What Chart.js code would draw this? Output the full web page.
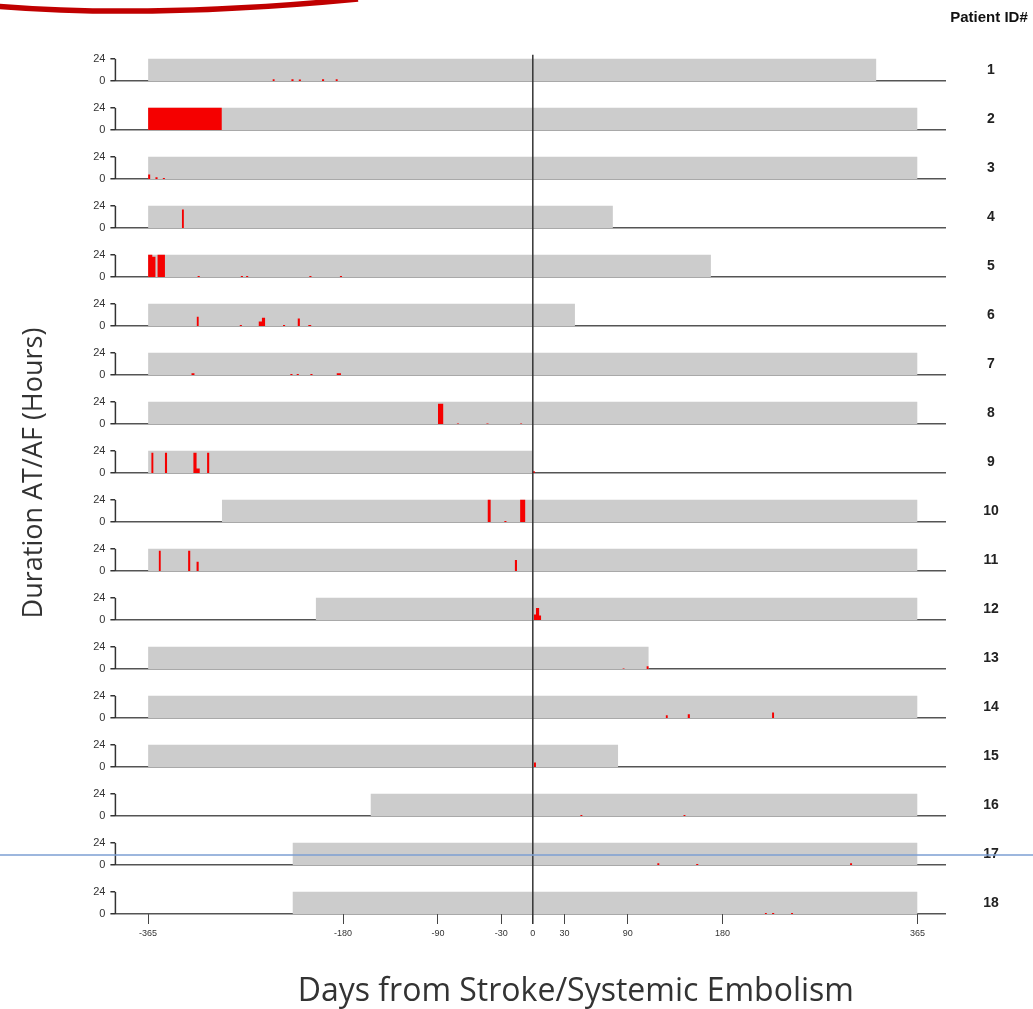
<!DOCTYPE html>
<html>
<head>
<meta charset="utf-8">
<script src="https://cdn.jsdelivr.net/npm/chart.js@4.4.1/dist/chart.umd.min.js"></script>
<style>
  body { margin: 0; background: #fff; }
  canvas { display: block; }
</style>
</head>
<body>
<canvas id="af_chart" width="1033" height="1009"></canvas>
<script>
// patients and their monitoring window (days from stroke)
const patientIds = [1, 2, 3, 4, 5, 6, 7, 8, 9, 10, 11, 12, 13, 14, 15, 16, 17, 18];
const monitorStart = [-365, -365, -365, -365, -365, -365, -365, -365, -365, -295, -365, -206, -365, -365, -365, -154, -228, -228];
const monitorEnd = [326, 365, 365, 76, 169, 40, 365, 365, 0, 365, 365, 365, 110, 365, 81, 365, 365, 365];

// AT/AF episodes per patient: first day, number of days, hours per day
const afDay = [
    [-247, -229, -222, -200, -187],
    [-365],
    [-365, -358, -351],
    [-333],
    [-365, -361, -356, -318, -277, -272, -212, -183],
    [-319, -278, -260, -257, -237, -223, -213],
    [-324, -230, -224, -211, -186],
    [-90, -72, -44, -12],
    [-362, -349, -322, -319, -309, 0],
    [-43, -27, -12],
    [-355, -327, -319, -17],
    [1, 3, 6],
    [85, 108],
    [126, 147, 227],
    [1],
    [45, 143],
    [118, 155, 301],
    [220, 227, 245]
];
const afLength = [
    [2, 2, 2, 2, 2],
    [70],
    [2, 2, 2],
    [2],
    [4, 3, 7, 2, 2, 2, 2, 2],
    [2, 2, 3, 3, 2, 2, 3],
    [3, 2, 2, 2, 4],
    [5, 2, 2, 2],
    [2, 2, 3, 3, 2, 2],
    [3, 2, 5],
    [2, 2, 2, 2],
    [2, 3, 2],
    [2, 2],
    [2, 2, 2],
    [2],
    [2, 2],
    [2, 2, 2],
    [2, 2, 2]
];
const afHours = [
    [2, 2, 1.5, 2, 2],
    [24],
    [5, 2, 1],
    [20],
    [24, 22, 24, 1, 1, 1, 1, 1],
    [10, 1, 5, 9, 1, 8, 1],
    [2, 1, 1, 1, 2],
    [22, 0.5, 0.5, 0.5],
    [22, 22, 22, 5, 22, 2],
    [24, 1, 24],
    [22, 22, 10, 12],
    [6, 13, 5],
    [0.5, 3],
    [3, 4, 6],
    [5],
    [1, 1],
    [2, 1, 2],
    [1, 1, 1]
];

const xTicks = [-365, -180, -90, -30, 0, 30, 90, 180, 365];
const yTicks = [0, 24];
const xTitle = 'Days from Stroke/Systemic Embolism';
const yTitle = 'Duration AT/AF (Hours)';

const narrow = "'Liberation Sans Narrow', 'Liberation Sans', sans-serif";

function episodePoints(i) {
    let pts = [];
    for (let k = 0; k < afDay[i].length; k++) {
        let s = afDay[i][k], e = s + afLength[i][k], h = afHours[i][k];
        pts.push({x: s, y: 0}, {x: s, y: h}, {x: e, y: h}, {x: e, y: 0});
    }
    return pts;
}

let datasets = [];
let scales = {
    x: {
        type: 'linear',
        min: -396,
        max: 392,
        afterBuildTicks: s => { s.ticks = xTicks.map(v => ({value: v})); },
        afterFit: s => { s.height = 95; },
        ticks: { font: { family: narrow, size: 9 }, color: '#333', padding: 4, autoSkip: false, maxRotation: 0 },
        grid: { drawOnChartArea: false, tickLength: 10, tickColor: '#444', lineWidth: 1 },
        border: { display: false }
    }
};

for (let i = 0; i < patientIds.length; i++) {
    let id = 'y' + i;
    datasets.push({
        label: 'AT/AF ' + patientIds[i],
        data: episodePoints(i),
        yAxisID: id,
        fill: 'origin',
        backgroundColor: '#f50000',
        borderColor: 'rgba(0,0,0,0)',
        borderWidth: 0,
        pointRadius: 0,
        order: 1
    });
    datasets.push({
        label: 'Monitored ' + patientIds[i],
        data: [{x: monitorStart[i], y: 24}, {x: monitorEnd[i], y: 24}],
        yAxisID: id,
        fill: 'origin',
        backgroundColor: '#cccccc',
        borderColor: 'rgba(0,0,0,0)',
        borderWidth: 0,
        pointRadius: 0,
        order: 2
    });
}

// stacked left axes: the last one defined ends up on top, so go backwards
for (let i = patientIds.length - 1; i >= 0; i--) {
    scales['y' + i] = {
        type: 'linear',
        position: 'left',
        stack: 'rows',
        stackWeight: 1,
        min: 0,
        max: 53,
        z: 1,
        afterBuildTicks: s => { s.ticks = yTicks.map(v => ({value: v})); },
        afterFit: s => { s.width = 30; },
        ticks: { font: { family: narrow, size: 11 }, color: '#333', padding: 5 },
        grid: {
            color: c => (c.tick && c.tick.value === 0) ? '#555' : 'rgba(0,0,0,0)',
            tickColor: '#333',
            tickLength: 5,
            lineWidth: 1.5
        },
        border: { display: false }
    };
}

// bracket of each row, the zero line, patient numbers and the x title
const rowFrame = {
    id: 'rowFrame',
    afterDatasetsDraw(chart) {
        const ctx = chart.ctx, area = chart.chartArea;
        ctx.save();
        ctx.strokeStyle = '#333';
        ctx.lineWidth = 1.5;
        let topPix = area.bottom;
        for (let i = 0; i < patientIds.length; i++) {
            let ys = chart.scales['y' + i];
            let y0 = ys.getPixelForValue(0), y24 = ys.getPixelForValue(24);
            topPix = Math.min(topPix, y24);
            ctx.beginPath();
            ctx.moveTo(area.left, y0);
            ctx.lineTo(area.left, y24);
            ctx.stroke();
            ctx.fillStyle = '#222';
            ctx.font = "bold 14px 'Liberation Sans', sans-serif";
            ctx.textAlign = 'center';
            ctx.textBaseline = 'middle';
            ctx.fillText(String(patientIds[i]), area.right + 45, ys.getPixelForValue(12));
        }
        let x0 = chart.scales.x.getPixelForValue(0);
        ctx.beginPath();
        ctx.moveTo(x0, topPix - 4);
        ctx.lineTo(x0, area.bottom + 10);
        ctx.stroke();

        ctx.font = "bold 15px " + narrow;
        ctx.fillStyle = '#111';
        ctx.textAlign = 'center';
        ctx.fillText('Patient ID#', area.right + 43, 18);

        ctx.font = "32px 'Open Sans', sans-serif";
        ctx.fillStyle = '#333';
        ctx.fillText(xTitle, x0 + 43, 992);
        ctx.restore();
    }
};

// slide decoration: red swoosh at the top, blue rule across the page
const decor = {
    id: 'decor',
    afterDraw(chart) {
        const ctx = chart.ctx;
        ctx.save();
        ctx.strokeStyle = '#c00000';
        ctx.lineWidth = 5.5;
        ctx.beginPath();
        ctx.moveTo(-5, 6);
        ctx.quadraticCurveTo(150, 19, 358, -1);
        ctx.stroke();
        ctx.strokeStyle = '#7d9fd3';
        ctx.lineWidth = 1.5;
        ctx.beginPath();
        ctx.moveTo(0, 855);
        ctx.lineTo(chart.width, 855);
        ctx.stroke();
        ctx.restore();
    }
};

window.af_chart = new Chart(document.getElementById('af_chart').getContext('2d'), {
    type: 'line',
    data: { datasets: datasets },
    options: {
        responsive: false,
        animation: false,
        layout: { padding: { left: 0, right: 87, top: 32, bottom: 0 } },
        plugins: {
            legend: { display: false },
            tooltip: { enabled: false },
            title: {
                display: true,
                position: 'left',
                fullSize: false,
                text: yTitle,
                color: '#333',
                font: { family: "'Open Sans', sans-serif", size: 27, weight: 'normal' },
                padding: { top: 18, bottom: 35 }
            }
        },
        scales: scales
    },
    plugins: [rowFrame, decor]
});
</script>
</body>
</html>
